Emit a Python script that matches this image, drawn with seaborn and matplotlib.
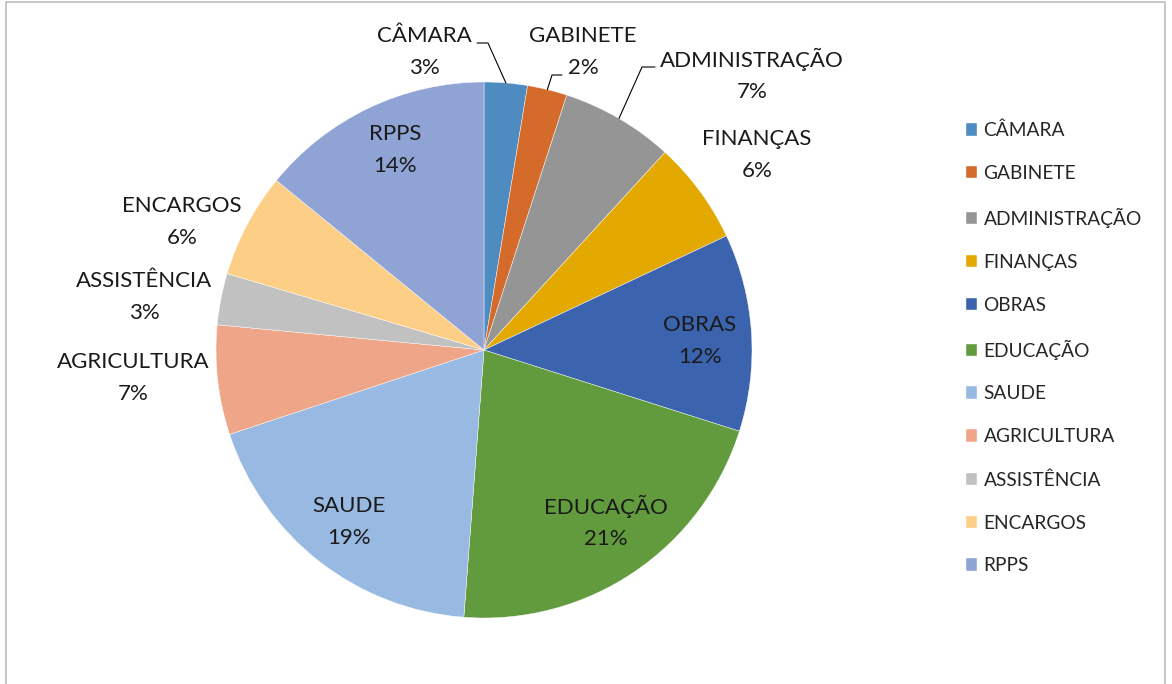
import matplotlib.pyplot as plt
import seaborn as sns
from matplotlib.patches import Rectangle
import numpy as np

# spending share per department
categories = ["CÂMARA", "GABINETE", "ADMINISTRAÇÃO", "FINANÇAS", "OBRAS", "EDUCAÇÃO",
              "SAUDE", "AGRICULTURA", "ASSISTÊNCIA", "ENCARGOS", "RPPS"]
shares = [2.6, 2.4, 6.8, 6.2, 11.9, 21.3, 18.7, 6.6, 3.1, 6.3, 14.1]
colors = ["#4e8bc0", "#d56b2a", "#959595", "#e3a900", "#3c63ad", "#629b3e",
          "#98b9e1", "#efa588", "#c1c1c1", "#fdcf86", "#8fa3d5"]

sns.set_theme(style="white")
plt.rcParams['font.family'] = ['Lato', 'DejaVu Sans']

W, H = 1172, 684
fig = plt.figure(figsize=(W / 100, H / 100), dpi=100)
ax = fig.add_axes([0, 0, 1, 1])

cx, cy, r = 484, H - 350, 268
wedges, _ = ax.pie(shares, colors=colors, startangle=90, counterclock=False,
                   center=(cx, cy), radius=r, frame=True,
                   wedgeprops=dict(edgecolor='white', linewidth=0.3))
ax.set_xlim(0, W)
ax.set_ylim(0, H)
ax.set_aspect('equal')
ax.axis('off')

# label centres (pixel coords from top-left)
label_pos = {
    "CÂMARA": (424, 52), "GABINETE": (583, 52), "ADMINISTRAÇÃO": (752, 75),
    "FINANÇAS": (757, 155), "OBRAS": (700, 341), "EDUCAÇÃO": (606, 522),
    "SAUDE": (349, 522), "AGRICULTURA": (133, 378), "ASSISTÊNCIA": (144, 297),
    "ENCARGOS": (182, 222), "RPPS": (395, 150),
}
total = sum(shares)
for name, val in zip(categories, shares):
    x, y = label_pos[name]
    ax.text(x, H - y, f"{name}\n{round(val / total * 100):.0f}%", ha='center', va='center',
            fontsize=16, color='#1a1a1a', linespacing=1.72)

# leader lines: (elbow x, elbow y, end x) for the three small top slices
leaders = {"CÂMARA": (488, 43, 477), "GABINETE": (552, 75, 562), "ADMINISTRAÇÃO": (642, 67, 655)}
cum = np.cumsum([0] + shares)
for i, name in enumerate(categories):
    if name not in leaders:
        continue
    mid = (cum[i] + cum[i + 1]) / 2 / total * 2 * np.pi
    px, py = cx + r * np.sin(mid), cy + r * np.cos(mid)
    ex, ey, tx = leaders[name]
    ax.plot([px, ex, tx], [py, H - ey, H - ey], color='black', lw=0.8)

ax.legend(wedges, categories, loc='center left', bbox_to_anchor=(956 / W, 1 - 348 / H),
          frameon=False, fontsize=13.8, handlelength=0.62, handleheight=0.62,
          handletextpad=0.32, labelspacing=1.35, borderpad=0)

fig.patches.append(Rectangle((6 / W, -0.01), 1159 / W, 1.0 + 0.01 - 1.5 / H,
                             transform=fig.transFigure,
                             fill=False, edgecolor='#bdbdbd', lw=1.2))

fig.savefig("out.png", dpi=100)
